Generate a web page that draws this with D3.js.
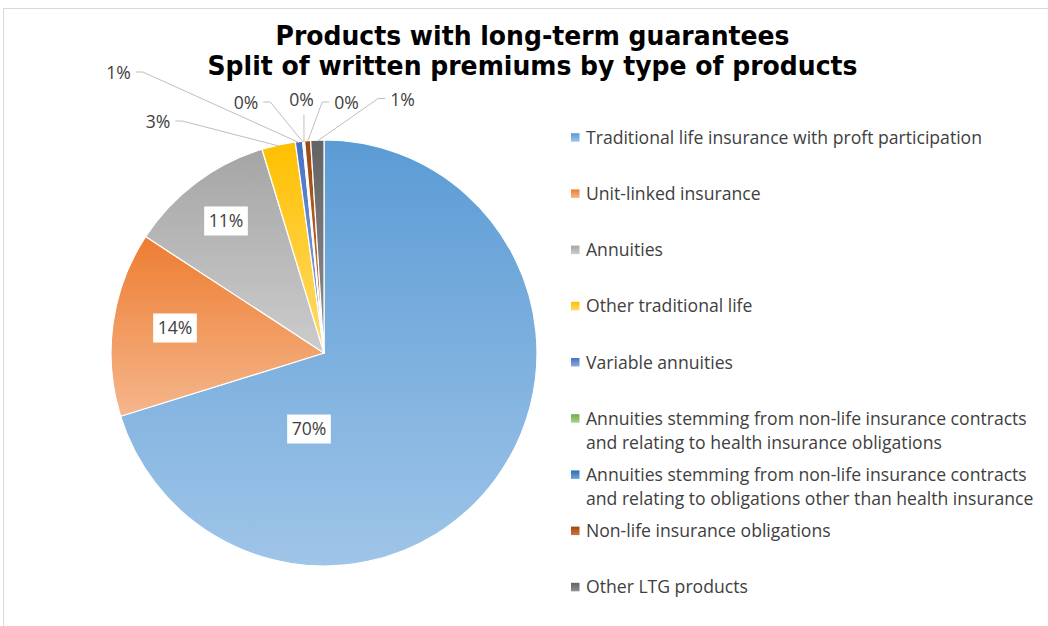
<!DOCTYPE html>
<html>
<head>
<meta charset="utf-8">
<script src="https://cdn.jsdelivr.net/npm/d3@7"></script>
<style>
  html, body { margin: 0; padding: 0; background: #ffffff; }
  svg { display: block; }
</style>
</head>
<body>
<svg id="chart" width="1048" height="626"></svg>
<script>
// ---- data -------------------------------------------------------------
const titleLines = [
  "Products with long-term guarantees",
  "Split of written premiums by type of products"
];

const categories = [
  "Traditional life insurance with proft participation",
  "Unit-linked insurance",
  "Annuities",
  "Other traditional life",
  "Variable annuities",
  "Annuities stemming from non-life insurance contracts and relating to health insurance obligations",
  "Annuities stemming from non-life insurance contracts and relating to obligations other than health insurance",
  "Non-life insurance obligations",
  "Other LTG products"
];

// legend text, wrapped the way it is printed
const legendLines = [
  ["Traditional life insurance with proft participation"],
  ["Unit-linked insurance"],
  ["Annuities"],
  ["Other traditional life"],
  ["Variable annuities"],
  ["Annuities stemming from non-life insurance contracts", "and relating to health insurance obligations"],
  ["Annuities stemming from non-life insurance contracts", "and relating to obligations other than health insurance"],
  ["Non-life insurance obligations"],
  ["Other LTG products"]
];

// share of written premiums, %
const shares = [70.2, 14.0, 11.1, 2.55, 0.55, 0.05, 0.1, 0.45, 1.0];

// slice fills: gradient from top colour to bottom colour
const topColors    = ["#5b9bd5", "#ed7d31", "#a5a5a5", "#ffc000", "#4472c4", "#70ad47", "#2e6fb0", "#9e480e", "#636363"];
const bottomColors = ["#9fc5e8", "#f5b68c", "#cccccc", "#ffda6a", "#8eaadf", "#a9d18e", "#6fa3d8", "#d0743a", "#8f8f8f"];

// ---- layout -----------------------------------------------------------
const W = 1048, H = 626;
const cx = 324, cy = 353, R = 213;

// data label placement relative to the pie centre (px);
// "box" labels sit on the slice, the rest use a leader line
const labelLayout = [
  { dx: -15,    dy: 76,   type: "box" },
  { dx: -149,   dy: -25,  type: "box" },
  { dx: -98,    dy: -132, type: "box" },
  { dx: -166,   dy: -231, type: "leader", side: "right" },
  { dx: -205.5, dy: -280, type: "leader", side: "right" },
  { dx: -78,    dy: -250, type: "leader", side: "right" },
  { dx: -22.5,  dy: -253.5, type: "leader", side: "bottom" },
  { dx: 22.5,   dy: -250, type: "leader", side: "left" },
  { dx: 78.5,   dy: -253.5, type: "leader", side: "left" }
];

const labelFont = "'Open Sans', Lato, sans-serif";
const textSize = 17.6;
const svg = d3.select("#chart");

// chart area outline
svg.append("rect")
  .attr("x", 3.5).attr("y", 8.5)
  .attr("width", W).attr("height", H)
  .attr("fill", "#ffffff")
  .attr("stroke", "#d9d9d9").attr("stroke-width", 1);

// gradients (one per category, shared by slice and legend key)
const defs = svg.append("defs");
categories.forEach((c, i) => {
  const g = defs.append("linearGradient")
    .attr("id", "grad" + i)
    .attr("x1", 0).attr("y1", 0).attr("x2", 0).attr("y2", 1);
  g.append("stop").attr("offset", "0%").attr("stop-color", topColors[i]);
  g.append("stop").attr("offset", "100%").attr("stop-color", bottomColors[i]);
});

// ---- title ------------------------------------------------------------
const titleG = svg.append("g")
  .attr("font-family", "'DejaVu Sans', Verdana, sans-serif")
  .attr("font-weight", "bold")
  .attr("font-size", 26)
  .attr("fill", "#000000")
  .attr("text-anchor", "middle");
const titleWidths = [514, 650];
titleLines.forEach((t, i) => {
  titleG.append("text")
    .attr("x", 532.5)
    .attr("y", 44.5 + i * 30.5)
    .attr("textLength", titleWidths[i])
    .attr("lengthAdjust", "spacingAndGlyphs")
    .text(t);
});

// ---- pie --------------------------------------------------------------
const pie = d3.pie().value(d => d).sort(null)
  .startAngle(0).endAngle(2 * Math.PI);
const arcs = pie(shares);
const total = d3.sum(shares);
const arc = d3.arc().innerRadius(0).outerRadius(R);
const rim = d3.arc().innerRadius(R).outerRadius(R);

const pieG = svg.append("g").attr("transform", `translate(${cx},${cy})`);
pieG.selectAll("path.slice")
  .data(arcs)
  .join("path")
  .attr("class", "slice")
  .attr("d", arc)
  .attr("fill", (d, i) => `url(#grad${i})`)
  .attr("stroke", "#ffffff")
  .attr("stroke-width", 1.2)
  .attr("stroke-linejoin", "round");

// ---- data labels ------------------------------------------------------
const pctText = d => Math.round(d.value / total * 100) + "%";
const labelG = pieG.append("g")
  .attr("font-family", labelFont)
  .attr("font-size", textSize)
  .attr("fill", "#404040");

arcs.forEach((d, i) => {
  const L = labelLayout[i];
  const txt = labelG.append("text")
    .attr("x", L.dx).attr("y", L.dy + 6.3)
    .attr("text-anchor", "middle")
    .text(pctText(d));
  const bb = txt.node().getBBox();
  if (L.type === "box") {
    labelG.insert("rect", "text")
      .attr("x", L.dx - bb.width / 2 - 4.5)
      .attr("y", L.dy - 14.5)
      .attr("width", bb.width + 9)
      .attr("height", 29)
      .attr("fill", "#ffffff");
  } else {
    // leader from the label to the middle of the slice's rim
    const [ex, ey] = rim.centroid(d);
    let pts;
    if (L.side === "right") {
      const sx = L.dx + bb.width / 2 + 5, sy = L.dy - 1;
      pts = [[sx, sy], [sx + 7, sy], [ex, ey + 1]];
    } else if (L.side === "left") {
      const sx = L.dx - bb.width / 2 - 5, sy = L.dy - 1;
      pts = [[sx, sy], [sx - 7, sy], [ex, ey + 1]];
    } else {
      const sx = ex, sy = L.dy + 15;
      pts = [[sx, sy], [ex, ey + 1]];
    }
    labelG.append("path")
      .attr("d", d3.line()(pts))
      .attr("fill", "none")
      .attr("stroke", "#bfbfbf")
      .attr("stroke-width", 1);
  }
});

// ---- legend -----------------------------------------------------------
const legendG = svg.append("g")
  .attr("font-family", labelFont)
  .attr("font-size", textSize)
  .attr("fill", "#404040");
const legendTop = 137.5, rowStep = 56.2, lineStep = 24.2;
legendLines.forEach((lines, i) => {
  const y0 = legendTop + i * rowStep;
  legendG.append("rect")
    .attr("x", 571).attr("y", y0 - 4.3)
    .attr("width", 8.5).attr("height", 8.5)
    .attr("fill", `url(#grad${i})`);
  lines.forEach((ln, j) => {
    legendG.append("text")
      .attr("x", 586)
      .attr("y", y0 + j * lineStep + 6.3)
      .text(ln);
  });
});
</script>
</body>
</html>
